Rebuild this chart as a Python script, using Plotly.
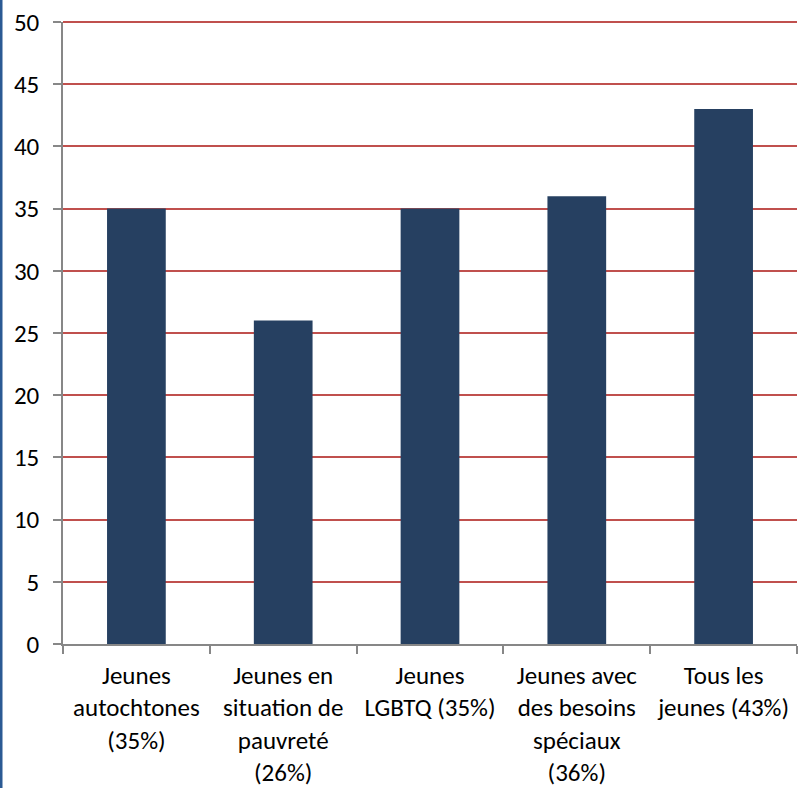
import plotly.graph_objects as go

# Share of young people per group (percent)
categories = [
    "Jeunes<br>autochtones<br>(35%)",
    "Jeunes en<br>situation de<br>pauvreté<br>(26%)",
    "Jeunes<br>LGBTQ (35%)",
    "Jeunes avec<br>des besoins<br>spéciaux<br>(36%)",
    "Tous les<br>jeunes (43%)",
]
values = [35, 26, 35, 36, 43]
y_ticks = [0, 5, 10, 15, 20, 25, 30, 35, 40, 45, 50]

FONT = "Carlito, Calibri, Lato, sans-serif"
FS = 25

fig = go.Figure(
    go.Bar(
        x=categories,
        y=values,
        marker=dict(color="#264061", line=dict(width=0)),
        width=0.4,
    )
)

fig.update_layout(
    width=802,
    height=788,
    margin=dict(l=63, r=5, t=22, b=144),
    paper_bgcolor="white",
    plot_bgcolor="white",
    showlegend=False,
    font=dict(family=FONT, size=FS, color="#000000"),
    shapes=[
        # dark blue rule along the left edge of the page
        dict(
            type="line", xref="paper", yref="paper",
            x0=-62 / 734, x1=-62 / 734, y0=-144 / 622, y1=1 + 22 / 622,
            line=dict(color="#2B5A94", width=3),
        ),
        # top gridline at the axis maximum (paper coords so it is not clipped)
        dict(
            type="line", xref="paper", yref="paper",
            x0=0, x1=1, y0=1, y1=1,
            line=dict(color="#C0504D", width=2),
            layer="below",
        ),
    ],
)

fig.update_xaxes(
    automargin=False,
    showgrid=False,
    showline=True,
    linecolor="#878787",
    linewidth=1.5,
    ticks="outside",
    tickson="boundaries",
    ticklen=8,
    tickcolor="#878787",
    tickwidth=1.5,
    tickangle=0,
    ticklabelstandoff=8,
    tickfont=dict(family=FONT, size=FS, color="#000000"),
)

fig.update_yaxes(
    automargin=False,
    range=[0, 50],
    tickvals=y_ticks,
    showgrid=True,
    gridcolor="#C0504D",
    gridwidth=2,
    zeroline=False,
    showline=True,
    linecolor="#878787",
    linewidth=1.5,
    ticks="outside",
    ticklen=8,
    tickcolor="#878787",
    tickwidth=1.5,
    ticklabelstandoff=9,
    tickfont=dict(family=FONT, size=FS, color="#000000"),
)

fig.write_html("out.html")
